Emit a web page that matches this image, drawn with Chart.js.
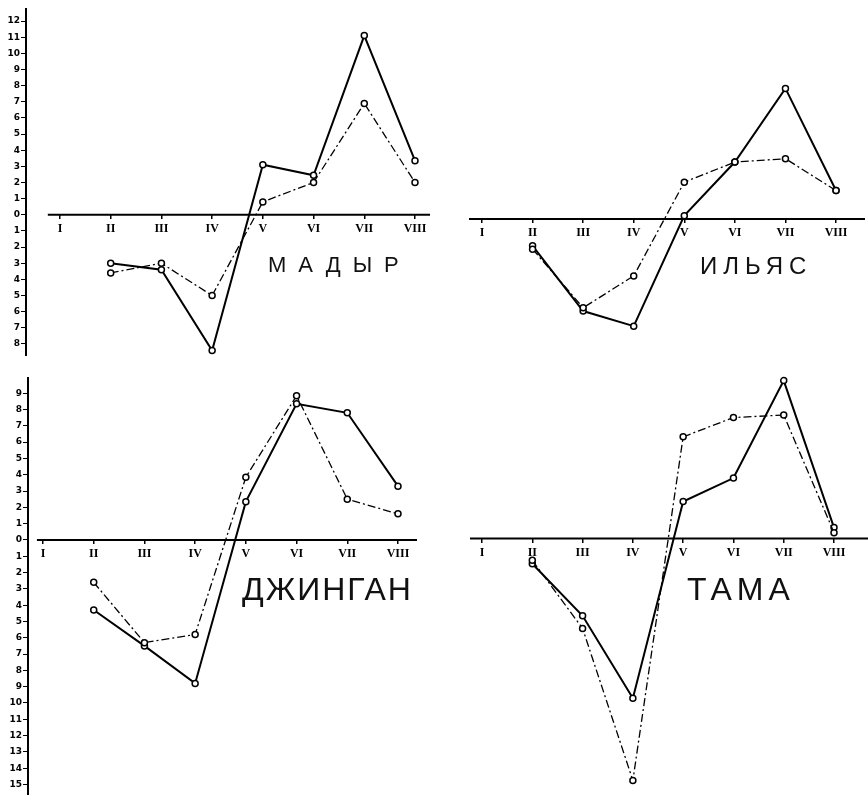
<!DOCTYPE html>
<html lang="ru">
<head>
<meta charset="utf-8">
<title>Мадыр, Ильяс, Джинган, Тама</title>
<script src="https://cdn.jsdelivr.net/npm/chart.js@4.4.1/dist/chart.umd.min.js"></script>
<style>
    html, body { margin: 0; padding: 0; background: #fff; }
    body { width: 868px; height: 801px; position: relative; overflow: hidden; }
    canvas { position: absolute; }
    .name {
        position: absolute;
        font-family: "Liberation Sans", Arial, sans-serif;
        color: #111;
        line-height: 1;
        white-space: nowrap;
    }
</style>
</head>
<body>
<canvas id="madyr" width="430" height="359" style="left:0;top:3px"></canvas>
<canvas id="ilyas" width="396" height="359" style="left:469px;top:6px"></canvas>
<canvas id="dzhingan" width="417" height="429" style="left:0;top:372px"></canvas>
<canvas id="tama" width="398" height="429" style="left:470px;top:372px"></canvas>

<div class="name" style="left:268px;top:254px;font-size:22px;letter-spacing:12px">МАДЫР</div>
<div class="name" style="left:700px;top:254px;font-size:24px;letter-spacing:6px">ИЛЬЯС</div>
<div class="name" style="left:242px;top:573px;font-size:32px;letter-spacing:2px">ДЖИНГАН</div>
<div class="name" style="left:687px;top:573px;font-size:32px;letter-spacing:5px">ТАМА</div>

<script>
// Месяцы (I..VIII) и подписи оси
const months = [1, 2, 3, 4, 5, 6, 7, 8];
const monthLabels = ['I', 'II', 'III', 'IV', 'V', 'VI', 'VII', 'VIII'];

// Мадыр
const madyrSolid = [null, -3.0, -3.4, -8.4, 3.1, 2.45, 11.1, 3.35];
const madyrDash = [null, -3.6, -3.0, -5.0, 0.8, 2.0, 6.9, 2.0];

// Ильяс
const ilyasSolid = [null, -1.6, -5.5, -6.4, 0.2, 3.4, 7.8, 1.7];
const ilyasDash = [null, -1.8, -5.3, -3.4, 2.2, 3.4, 3.6, 1.7];

// Джинган
const dzhinganSolid = [null, -4.3, -6.5, -8.8, 2.35, 8.35, 7.8, 3.3];
const dzhinganDash = [null, -2.6, -6.3, -5.8, 3.85, 8.85, 2.5, 1.6];

// Тама
const tamaSolid = [null, -1.5, -4.6, -9.5, 2.2, 3.6, 9.4, 0.65];
const tamaDash = [null, -1.3, -5.35, -14.4, 6.05, 7.2, 7.35, 0.35];

(function () {
    'use strict';

    const toPoints = arr => months.map((m, i) => ({ x: m, y: arr[i] })).filter(p => p.y !== null);

    const solidStyle = {
        borderColor: '#000',
        borderWidth: 2,
        pointRadius: 3,
        pointBorderWidth: 1.5,
        pointBorderColor: '#000',
        pointBackgroundColor: '#fff',
        tension: 0,
        clip: false
    };

    const dashStyle = Object.assign({}, solidStyle, {
        borderWidth: 1.3,
        borderDash: [8, 3, 2, 3]
    });

    // Нулевая линия (ось месяцев) начинается чуть левее месяца I
    const zeroLine = {
        id: 'zeroLine',
        beforeDatasetsDraw(chart, args, opts) {
            const { ctx, chartArea, scales } = chart;
            const y0 = scales.y.getPixelForValue(0);
            ctx.save();
            ctx.strokeStyle = '#000';
            ctx.lineWidth = 2;
            ctx.beginPath();
            ctx.moveTo(scales.x.getPixelForValue(opts.from), y0);
            ctx.lineTo(chartArea.right, y0);
            ctx.stroke();
            ctx.restore();
        }
    };

    // Одна панель: сплошная и штрихпунктирная линия
    const makePanel = (id, solid, dash, xr, yr, axisWidth, lineFrom) => {
        const ctx = document.getElementById(id).getContext('2d');

        new Chart(ctx, {
            type: 'line',
            data: {
                datasets: [
                    Object.assign({ data: toPoints(dash) }, dashStyle),
                    Object.assign({ data: toPoints(solid) }, solidStyle)
                ]
            },
            plugins: [zeroLine],
            options: {
                responsive: false,
                animation: false,
                events: [],
                layout: { padding: 0, autoPadding: false },
                plugins: {
                    legend: { display: false },
                    tooltip: { enabled: false },
                    zeroLine: { from: lineFrom }
                },
                scales: {
                    x: {
                        type: 'linear',
                        min: xr[0],
                        max: xr[1],
                        position: { y: 0 },
                        afterFit: s => { s.height = 0; },
                        border: { display: false },
                        grid: { drawOnChartArea: false, drawTicks: true, tickLength: 4, color: '#000', lineWidth: 1.5 },
                        ticks: {
                            stepSize: 1,
                            includeBounds: false,
                            autoSkip: false,
                            maxRotation: 0,
                            padding: 3,
                            color: '#000',
                            font: { family: 'Liberation Serif', size: 12, weight: 'bold' },
                            callback: v => monthLabels[v - 1] || ''
                        }
                    },
                    y: {
                        type: 'linear',
                        display: axisWidth > 0,
                        min: yr[0],
                        max: yr[1],
                        position: 'left',
                        afterFit: s => { s.width = axisWidth; },
                        border: { display: true, color: '#000', width: 2 },
                        grid: { drawOnChartArea: false, drawTicks: true, tickLength: 5, color: '#000', lineWidth: 1 },
                        ticks: {
                            stepSize: 1,
                            includeBounds: false,
                            autoSkip: false,
                            padding: 1,
                            color: '#000',
                            font: { family: 'DejaVu Sans', size: 9, weight: 'bold' },
                            callback: v => Math.abs(v)
                        }
                    }
                }
            }
        });
    };

    const yTop = [-8.72, 12.72];
    const yBottom = [-15.62, 9.91];

    makePanel('madyr', madyrSolid, madyrDash, [0.33, 8.296], yTop, 26, 0.76);
    makePanel('ilyas', ilyasSolid, ilyasDash, [0.743, 8.573], yTop, 0, 0.743);
    makePanel('dzhingan', dzhinganSolid, dzhinganDash, [0.704, 8.375], yBottom, 28, 0.88);
    makePanel('tama', tamaSolid, tamaDash, [0.761, 8.676], yBottom, 0, 0.761);
})();
</script>
</body>
</html>
